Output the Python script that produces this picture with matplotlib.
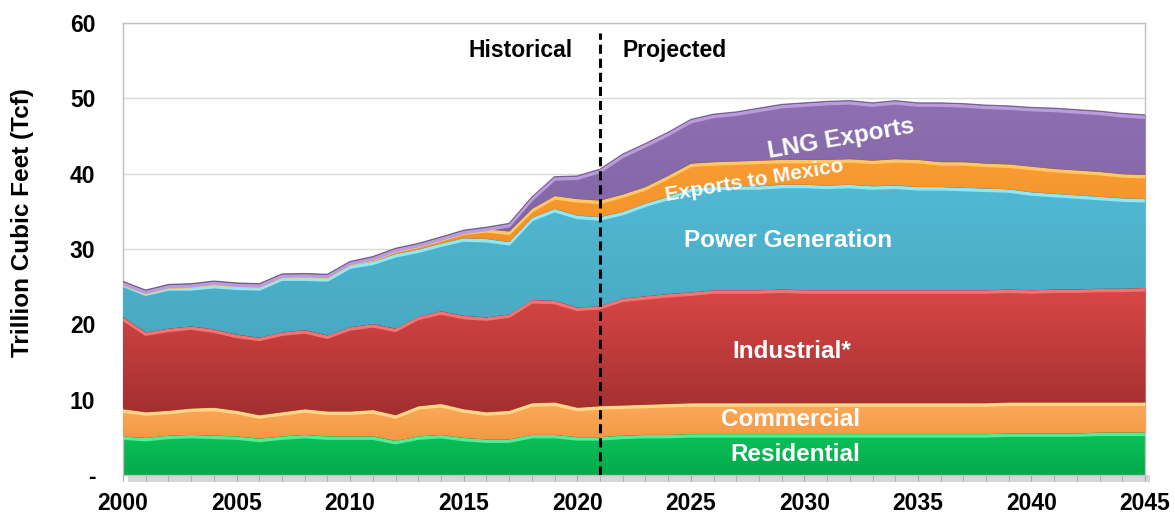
import numpy as np
import matplotlib
matplotlib.use("Agg")
import matplotlib.pyplot as plt
from matplotlib.colors import LinearSegmentedColormap

plt.rcParams['font.family'] = ['Liberation Sans', 'DejaVu Sans']
plt.rcParams['font.weight'] = 'bold'

years = list(range(2000, 2046))

# Tcf per year (2000-2021 historical, 2022-2045 projected)
residential = [5.2, 5.0, 5.3, 5.4, 5.3, 5.2, 4.9, 5.2, 5.4, 5.2, 5.2, 5.2, 4.6, 5.2, 5.4, 5.0,
               4.8, 4.8, 5.4, 5.4, 5.1, 5.1,
               5.3, 5.4, 5.4, 5.5, 5.5, 5.5, 5.5, 5.5, 5.5, 5.5, 5.5, 5.5, 5.5, 5.5, 5.5, 5.5,
               5.5, 5.6, 5.6, 5.6, 5.6, 5.7, 5.7, 5.7]
commercial = [3.6, 3.4, 3.3, 3.5, 3.7, 3.4, 3.1, 3.2, 3.4, 3.3, 3.3, 3.5, 3.4, 4.0, 4.1, 3.8,
              3.6, 3.8, 4.2, 4.3, 3.9, 4.1,
              4.0, 4.0, 4.1, 4.1, 4.1, 4.1, 4.1, 4.1, 4.1, 4.1, 4.1, 4.1, 4.1, 4.1, 4.1, 4.1,
              4.1, 4.1, 4.1, 4.1, 4.1, 4.0, 4.0, 4.0]
industrial = [12.2, 10.6, 10.9, 10.9, 10.4, 10.1, 10.3, 10.6, 10.5, 10.1, 11.2, 11.4, 11.5, 11.9,
              12.3, 12.4, 12.6, 12.8, 13.7, 13.5, 13.3, 13.3,
              14.2, 14.4, 14.6, 14.7, 15.0, 15.0, 15.0, 15.1, 15.0, 15.0, 15.0, 15.0, 15.0, 15.0,
              15.0, 15.0, 15.0, 15.0, 14.9, 15.0, 15.0, 15.1, 15.1, 15.2]
power = [4.5, 5.3, 5.5, 5.2, 5.9, 6.4, 6.7, 7.3, 7.0, 7.6, 8.2, 8.3, 9.9, 8.9, 9.0, 10.3,
         10.4, 9.6, 10.9, 12.2, 12.2, 11.8,
         11.5, 12.3, 12.9, 13.8, 13.7, 13.8, 13.8, 13.9, 14.0, 13.9, 14.0, 13.8, 13.9, 13.7,
         13.7, 13.6, 13.5, 13.3, 13.0, 12.7, 12.5, 12.2, 12.0, 11.8]
mexico = [0.1, 0.15, 0.2, 0.3, 0.35, 0.3, 0.3, 0.3, 0.35, 0.35, 0.35, 0.5, 0.6, 0.65, 0.7, 0.9,
          1.3, 1.4, 1.2, 1.7, 2.2, 2.2,
          2.3, 2.2, 2.8, 3.3, 3.3, 3.3, 3.4, 3.3, 3.3, 3.4, 3.4, 3.4, 3.5, 3.6, 3.3, 3.4,
          3.3, 3.3, 3.4, 3.3, 3.3, 3.3, 3.2, 3.2]
lng = [0.1, 0.1, 0.1, 0.1, 0.1, 0.1, 0.1, 0.1, 0.1, 0.1, 0.1, 0.1, 0.1, 0.1, 0.1, 0.1,
       0.2, 1.0, 1.5, 2.5, 3.0, 4.1,
       5.3, 5.7, 5.7, 5.8, 6.3, 6.5, 6.9, 7.3, 7.5, 7.7, 7.7, 7.6, 7.7, 7.5, 7.8, 7.7,
       7.7, 7.7, 7.8, 8.0, 8.0, 8.0, 8.0, 7.9]

series = [residential, commercial, industrial, power, mexico, lng]
# (top colour, bottom colour, highlight, dark edge)
styles = [('#0CC25A', '#04AA4A', '#52EC94', '#0A7A38'),
          ('#FBAB5C', '#F49843', '#FFD687', '#B86A24'),
          ('#DA4747', '#A32F2F', '#F37272', '#7A2020'),
          ('#52B8D3', '#48A9C3', '#8EE8F8', '#2F7F95'),
          ('#F99C33', '#F08B22', '#FFC866', '#B0651A'),
          ('#8E70B1', '#7C609E', '#B99CDC', '#5A4476')]

x = np.array(years, dtype=float)
fig = plt.figure(figsize=(11.75, 5.14), dpi=100)
ax = fig.add_axes([0.1047, 0.0759, 0.8698, 0.8794])

lower = np.zeros(len(x))
z = 2
for vals, (ctop, cbot, hl, dk) in zip(series, styles):
    upper = lower + np.array(vals)
    poly = ax.fill_between(x, lower, upper, color=cbot, lw=0, zorder=z)
    cmap = LinearSegmentedColormap.from_list('g', [cbot, ctop])
    grad = np.linspace(0, 1, 256)[:, None]
    im = ax.imshow(grad, extent=[x[0], x[-1], lower.min(), upper.max()], origin='lower',
                   aspect='auto', cmap=cmap, zorder=z, interpolation='bilinear')
    im.set_clip_path(poly.get_paths()[0], transform=ax.transData)
    ax.plot(x, upper - 0.32, color=hl, lw=2.4, zorder=z + 0.1, solid_capstyle='butt')
    ax.plot(x, upper, color=dk, lw=0.8, alpha=0.7, zorder=z + 0.2)
    lower = upper
    z += 1

# soft shadow under the plot area
ax.fill_between(x + 0.2, -0.9, 0, color='#A8A8A8', alpha=0.45, lw=0, clip_on=False, zorder=1)

ax.set_xlim(2000, 2045)
ax.set_ylim(0, 60)
ax.axvline(2021, ymax=58.7 / 60, color='black', ls=(0, (3, 1.6)), lw=2.2, zorder=20)

ax.set_yticks([0, 10, 20, 30, 40, 50, 60])
ax.set_yticklabels(['-', '10', '20', '30', '40', '50', '60'])
ax.set_xticks([2000, 2005, 2010, 2015, 2020, 2025, 2030, 2035, 2040, 2045])
ax.set_xticks(years, minor=True)
ax.tick_params(axis='y', length=0, pad=20, labelsize=16.5)
ax.tick_params(axis='x', which='both', length=4, color='#A6A6A6', pad=8, labelsize=16.5)
ax.yaxis.grid(True, color='#D9D9D9', lw=1)
ax.set_axisbelow(True)
for s in ax.spines.values():
    s.set_color('#C0C0C0')
    s.set_linewidth(1)

fig.text(22.5 / 1175, 1 - 223 / 514, 'Trillion Cubic Feet (Tcf)', rotation=90,
         ha='center', va='center', fontsize=17.5, fontweight='bold')

ax.text(2019.8, 56.3, 'Historical', ha='right', va='center', fontsize=16.5, fontweight='bold')
ax.text(2022.0, 56.4, 'Projected', ha='left', va='center', fontsize=16.5, fontweight='bold')

lab = dict(color='white', fontweight='bold', ha='center', va='center', zorder=30)
ax.text(2029.6, 2.7, 'Residential', fontsize=17.5, **lab)
ax.text(2029.4, 7.3, 'Commercial', fontsize=17.5, **lab)
ax.text(2029.45, 16.4, 'Industrial*', fontsize=17.5, **lab)
ax.text(2029.3, 31.1, 'Power Generation', fontsize=17.5, **lab)
ax.text(2027.8, 39.0, 'Exports to Mexico', fontsize=15, rotation=9.5, **lab)
ax.text(2031.6, 44.6, 'LNG Exports', fontsize=17.5, rotation=10, **lab)

fig.savefig('out.png', dpi=100)
